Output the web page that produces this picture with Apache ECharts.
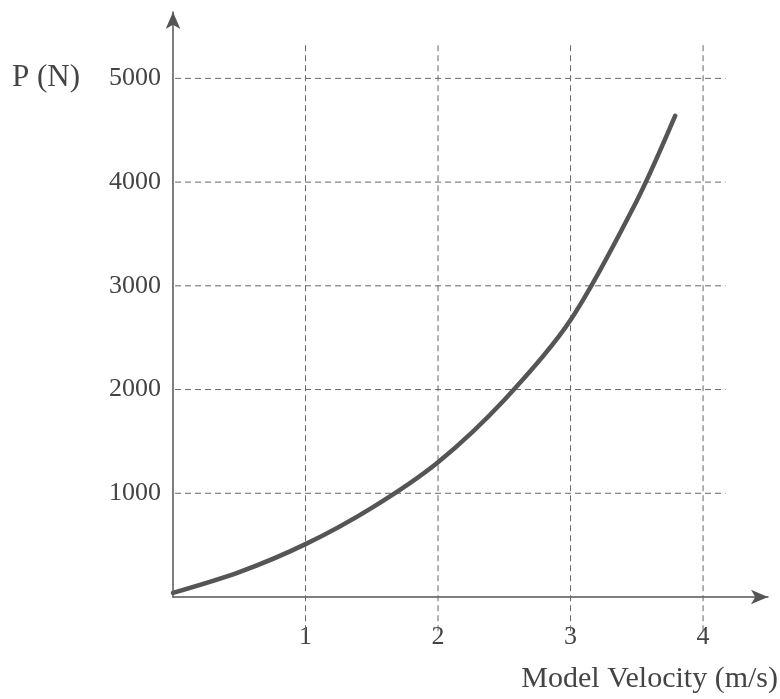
<!DOCTYPE html>
<html>
<head>
<meta charset="utf-8">
<script src="https://cdn.jsdelivr.net/npm/echarts@6/dist/echarts.min.js"></script>
<style>
html,body{margin:0;padding:0;background:#fff;}
#chart{width:780px;height:699px;}
</style>
</head>
<body>
<div id="chart"></div>
<script>
// Data
var velocity = [0, 0.5, 1, 1.5, 2, 2.5, 3, 3.5, 3.79];
var force    = [40, 240, 510, 860, 1300, 1900, 2670, 3820, 4640];
var xTicks = [1, 2, 3, 4];
var yTicks = [1000, 2000, 3000, 4000, 5000];
var xTitle = 'Model Velocity (m/s)';
var yTitle = 'P (N)';

var ink = '#555';
var gridInk = '#666';
var font = '"Liberation Serif", "DejaVu Serif", serif';

var series = [];
// horizontal dashed grid lines
yTicks.forEach(function (v) {
  series.push({
    type: 'line', data: [[-0.06, v], [4.17, v]], symbol: 'none', clip: false, silent: true,
    lineStyle: { color: gridInk, width: 1, type: [6, 4] }, z: 1
  });
});
// vertical dashed grid lines
xTicks.forEach(function (v) {
  series.push({
    type: 'line', data: [[v, -330], [v, 5330]], symbol: 'none', clip: false, silent: true,
    lineStyle: { color: gridInk, width: 1, type: [6, 4] }, z: 1
  });
});
// the curve
series.push({
  type: 'line', smooth: 0.3, symbol: 'none', clip: false,
  data: velocity.map(function (x, i) { return [x, force[i]]; }),
  lineStyle: { color: ink, width: 4.5, cap: 'round' }, z: 5
});

var chart = echarts.init(document.getElementById('chart'), null, { renderer: 'canvas' });
chart.setOption({
  backgroundColor: '#fff',
  animation: false,
  grid: { left: 173, right: 12, top: 12, bottom: 102 },
  xAxis: {
    type: 'value', min: 0, max: 4.49,
    splitLine: { show: false },
    axisLine: { show: true, onZero: false, symbol: ['none', 'arrow'], symbolSize: [11, 17],
      lineStyle: { color: ink, width: 1.5 } },
    axisTick: { show: false },
    axisLabel: { customValues: xTicks, margin: 27, color: '#444',
      fontFamily: font, fontSize: 26, formatter: function (v) { return String(v); } }
  },
  yAxis: {
    type: 'value', min: 0, max: 5640,
    splitLine: { show: false },
    axisLine: { show: true, onZero: false, symbol: ['none', 'arrow'], symbolSize: [11, 17],
      lineStyle: { color: ink, width: 1.5 } },
    axisTick: { show: false },
    axisLabel: { customValues: yTicks, margin: 12, color: '#444',
      fontFamily: font, fontSize: 26, formatter: function (v) { return String(v); } }
  },
  graphic: [
    { type: 'text', left: 12, top: 62, style: { text: yTitle, font: '31px ' + font, fill: '#444' } },
    { type: 'text', right: 2, top: 664, style: { text: xTitle, font: '30px ' + font, fill: '#444' } }
  ],
  series: series
});
</script>
</body>
</html>
